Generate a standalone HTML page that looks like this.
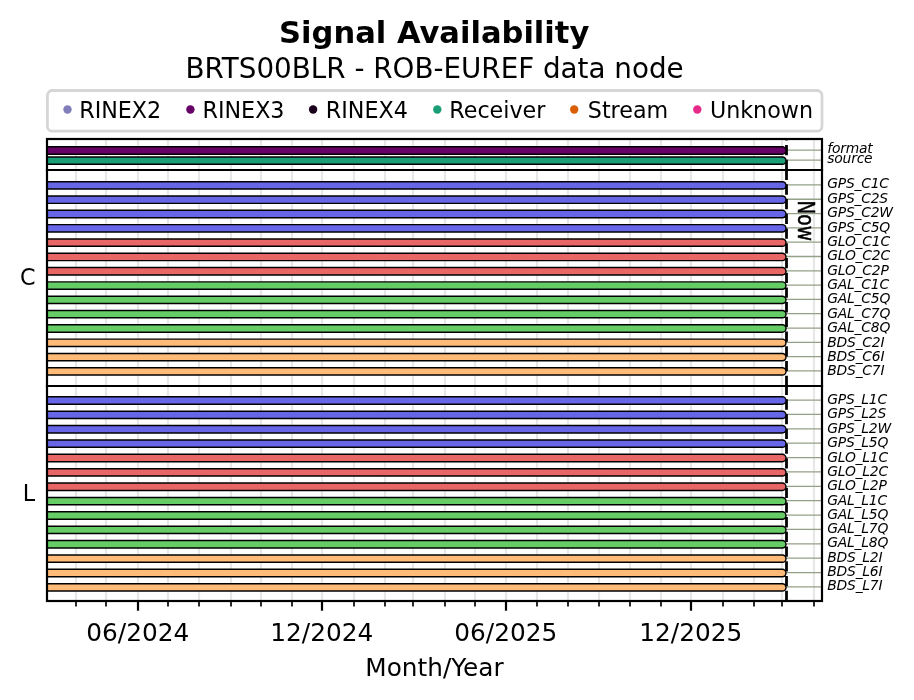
<!DOCTYPE html>
<html lang="en"><head><meta charset="utf-8"><title>Signal Availability</title>
<style>html,body{margin:0;padding:0;background:#fff}svg{display:block}text{filter:grayscale(1);font-family:"DejaVu Sans", "Liberation Sans", sans-serif;fill:#000}</style></head><body>
<svg style="will-change:transform" width="914" height="700" viewBox="0 0 914 700">
<rect width="914" height="700" fill="#fff"/>
<defs><clipPath id="ax"><rect x="47.00" y="139.00" width="775.00" height="462.00"/></clipPath></defs>
<text x="434.2" y="43.0" text-anchor="middle" font-size="30.56" font-weight="bold">Signal Availability</text>
<text x="434.6" y="78.2" text-anchor="middle" font-size="27.78">BRTS00BLR - ROB-EUREF data node</text>
<rect x="47.4" y="90.5" width="774.6" height="40.7" rx="5" ry="5" fill="#fff" stroke="#d6d6d6" stroke-width="2.78"/>
<circle cx="67.5" cy="109.5" r="4.2" fill="#827ebb"/>
<text x="79.2" y="117.6" font-size="22.22">RINEX2</text>
<circle cx="190.4" cy="109.5" r="4.2" fill="#660066"/>
<text x="202.5" y="117.6" font-size="22.22">RINEX3</text>
<circle cx="313.1" cy="109.5" r="4.2" fill="#1a001a"/>
<text x="325.8" y="117.6" font-size="22.22">RINEX4</text>
<circle cx="437.3" cy="109.5" r="4.2" fill="#1b9e77"/>
<text x="449.3" y="117.6" font-size="22.22">Receiver</text>
<circle cx="574.2" cy="109.5" r="4.2" fill="#d95f02"/>
<text x="587.8" y="117.6" font-size="22.22">Stream</text>
<circle cx="697.3" cy="109.5" r="4.2" fill="#e7298a"/>
<text x="709.9" y="117.6" font-size="22.22">Unknown</text>
<g clip-path="url(#ax)">
<line x1="76.00" x2="76.00" y1="139.00" y2="601.00" stroke="#e7e7e7" stroke-width="2.2"/>
<line x1="106.00" x2="106.00" y1="139.00" y2="601.00" stroke="#e7e7e7" stroke-width="2.2"/>
<line x1="138.00" x2="138.00" y1="139.00" y2="601.00" stroke="#e7e7e7" stroke-width="2.2"/>
<line x1="168.00" x2="168.00" y1="139.00" y2="601.00" stroke="#e7e7e7" stroke-width="2.2"/>
<line x1="199.00" x2="199.00" y1="139.00" y2="601.00" stroke="#e7e7e7" stroke-width="2.2"/>
<line x1="231.00" x2="231.00" y1="139.00" y2="601.00" stroke="#e7e7e7" stroke-width="2.2"/>
<line x1="261.00" x2="261.00" y1="139.00" y2="601.00" stroke="#e7e7e7" stroke-width="2.2"/>
<line x1="292.00" x2="292.00" y1="139.00" y2="601.00" stroke="#e7e7e7" stroke-width="2.2"/>
<line x1="322.00" x2="322.00" y1="139.00" y2="601.00" stroke="#e7e7e7" stroke-width="2.2"/>
<line x1="354.00" x2="354.00" y1="139.00" y2="601.00" stroke="#e7e7e7" stroke-width="2.2"/>
<line x1="385.00" x2="385.00" y1="139.00" y2="601.00" stroke="#e7e7e7" stroke-width="2.2"/>
<line x1="413.00" x2="413.00" y1="139.00" y2="601.00" stroke="#e7e7e7" stroke-width="2.2"/>
<line x1="445.00" x2="445.00" y1="139.00" y2="601.00" stroke="#e7e7e7" stroke-width="2.2"/>
<line x1="475.00" x2="475.00" y1="139.00" y2="601.00" stroke="#e7e7e7" stroke-width="2.2"/>
<line x1="506.00" x2="506.00" y1="139.00" y2="601.00" stroke="#e7e7e7" stroke-width="2.2"/>
<line x1="537.00" x2="537.00" y1="139.00" y2="601.00" stroke="#e7e7e7" stroke-width="2.2"/>
<line x1="568.00" x2="568.00" y1="139.00" y2="601.00" stroke="#e7e7e7" stroke-width="2.2"/>
<line x1="599.00" x2="599.00" y1="139.00" y2="601.00" stroke="#e7e7e7" stroke-width="2.2"/>
<line x1="630.00" x2="630.00" y1="139.00" y2="601.00" stroke="#e7e7e7" stroke-width="2.2"/>
<line x1="661.00" x2="661.00" y1="139.00" y2="601.00" stroke="#e7e7e7" stroke-width="2.2"/>
<line x1="691.00" x2="691.00" y1="139.00" y2="601.00" stroke="#e7e7e7" stroke-width="2.2"/>
<line x1="723.00" x2="723.00" y1="139.00" y2="601.00" stroke="#e7e7e7" stroke-width="2.2"/>
<line x1="754.00" x2="754.00" y1="139.00" y2="601.00" stroke="#e7e7e7" stroke-width="2.2"/>
<line x1="782.00" x2="782.00" y1="139.00" y2="601.00" stroke="#e7e7e7" stroke-width="2.2"/>
<line x1="814.00" x2="814.00" y1="139.00" y2="601.00" stroke="#e7e7e7" stroke-width="2.2"/>
<line x1="47.00" x2="822.00" y1="150.05" y2="150.05" stroke="#94a087" stroke-width="1.3"/>
<line x1="47.00" x2="822.00" y1="160.20" y2="160.20" stroke="#94a087" stroke-width="1.3"/>
<line x1="47.00" x2="822.00" y1="184.95" y2="184.95" stroke="#94a087" stroke-width="1.3"/>
<line x1="47.00" x2="822.00" y1="199.26" y2="199.26" stroke="#94a087" stroke-width="1.3"/>
<line x1="47.00" x2="822.00" y1="213.57" y2="213.57" stroke="#94a087" stroke-width="1.3"/>
<line x1="47.00" x2="822.00" y1="227.87" y2="227.87" stroke="#94a087" stroke-width="1.3"/>
<line x1="47.00" x2="822.00" y1="242.18" y2="242.18" stroke="#94a087" stroke-width="1.3"/>
<line x1="47.00" x2="822.00" y1="256.49" y2="256.49" stroke="#94a087" stroke-width="1.3"/>
<line x1="47.00" x2="822.00" y1="270.80" y2="270.80" stroke="#94a087" stroke-width="1.3"/>
<line x1="47.00" x2="822.00" y1="285.10" y2="285.10" stroke="#94a087" stroke-width="1.3"/>
<line x1="47.00" x2="822.00" y1="299.41" y2="299.41" stroke="#94a087" stroke-width="1.3"/>
<line x1="47.00" x2="822.00" y1="313.72" y2="313.72" stroke="#94a087" stroke-width="1.3"/>
<line x1="47.00" x2="822.00" y1="328.03" y2="328.03" stroke="#94a087" stroke-width="1.3"/>
<line x1="47.00" x2="822.00" y1="342.33" y2="342.33" stroke="#94a087" stroke-width="1.3"/>
<line x1="47.00" x2="822.00" y1="356.64" y2="356.64" stroke="#94a087" stroke-width="1.3"/>
<line x1="47.00" x2="822.00" y1="370.95" y2="370.95" stroke="#94a087" stroke-width="1.3"/>
<line x1="47.00" x2="822.00" y1="400.05" y2="400.05" stroke="#94a087" stroke-width="1.3"/>
<line x1="47.00" x2="822.00" y1="414.43" y2="414.43" stroke="#94a087" stroke-width="1.3"/>
<line x1="47.00" x2="822.00" y1="428.80" y2="428.80" stroke="#94a087" stroke-width="1.3"/>
<line x1="47.00" x2="822.00" y1="443.18" y2="443.18" stroke="#94a087" stroke-width="1.3"/>
<line x1="47.00" x2="822.00" y1="457.56" y2="457.56" stroke="#94a087" stroke-width="1.3"/>
<line x1="47.00" x2="822.00" y1="471.93" y2="471.93" stroke="#94a087" stroke-width="1.3"/>
<line x1="47.00" x2="822.00" y1="486.31" y2="486.31" stroke="#94a087" stroke-width="1.3"/>
<line x1="47.00" x2="822.00" y1="500.69" y2="500.69" stroke="#94a087" stroke-width="1.3"/>
<line x1="47.00" x2="822.00" y1="515.07" y2="515.07" stroke="#94a087" stroke-width="1.3"/>
<line x1="47.00" x2="822.00" y1="529.44" y2="529.44" stroke="#94a087" stroke-width="1.3"/>
<line x1="47.00" x2="822.00" y1="543.82" y2="543.82" stroke="#94a087" stroke-width="1.3"/>
<line x1="47.00" x2="822.00" y1="558.20" y2="558.20" stroke="#94a087" stroke-width="1.3"/>
<line x1="47.00" x2="822.00" y1="572.57" y2="572.57" stroke="#94a087" stroke-width="1.3"/>
<line x1="47.00" x2="822.00" y1="586.95" y2="586.95" stroke="#94a087" stroke-width="1.3"/>
<path d="M786.50 170.00V139.00" stroke="#000" stroke-width="2.78" stroke-dasharray="10.28 4.44" fill="none"/>
<path d="M786.50 386.00V170.00" stroke="#000" stroke-width="2.78" stroke-dasharray="10.28 4.44" fill="none"/>
<path d="M786.50 601.00V386.00" stroke="#000" stroke-width="2.78" stroke-dasharray="10.28 4.44" fill="none"/>
<path d="M27.00 150.50H782.30" stroke="#000" stroke-width="8.8" stroke-linecap="round" fill="none"/>
<path d="M27.00 150.50H782.30" stroke="#660066" stroke-width="5.9" stroke-linecap="round" fill="none"/>
<path d="M27.00 160.65H782.30" stroke="#000" stroke-width="8.8" stroke-linecap="round" fill="none"/>
<path d="M27.00 160.65H782.30" stroke="#1b9e77" stroke-width="5.9" stroke-linecap="round" fill="none"/>
<path d="M27.00 185.40H782.30" stroke="#000" stroke-width="8.8" stroke-linecap="round" fill="none"/>
<path d="M27.00 185.40H782.30" stroke="#6666e6" stroke-width="5.9" stroke-linecap="round" fill="none"/>
<path d="M27.00 199.71H782.30" stroke="#000" stroke-width="8.8" stroke-linecap="round" fill="none"/>
<path d="M27.00 199.71H782.30" stroke="#6666e6" stroke-width="5.9" stroke-linecap="round" fill="none"/>
<path d="M27.00 214.02H782.30" stroke="#000" stroke-width="8.8" stroke-linecap="round" fill="none"/>
<path d="M27.00 214.02H782.30" stroke="#6666e6" stroke-width="5.9" stroke-linecap="round" fill="none"/>
<path d="M27.00 228.32H782.30" stroke="#000" stroke-width="8.8" stroke-linecap="round" fill="none"/>
<path d="M27.00 228.32H782.30" stroke="#6666e6" stroke-width="5.9" stroke-linecap="round" fill="none"/>
<path d="M27.00 242.63H782.30" stroke="#000" stroke-width="8.8" stroke-linecap="round" fill="none"/>
<path d="M27.00 242.63H782.30" stroke="#e86666" stroke-width="5.9" stroke-linecap="round" fill="none"/>
<path d="M27.00 256.94H782.30" stroke="#000" stroke-width="8.8" stroke-linecap="round" fill="none"/>
<path d="M27.00 256.94H782.30" stroke="#e86666" stroke-width="5.9" stroke-linecap="round" fill="none"/>
<path d="M27.00 271.25H782.30" stroke="#000" stroke-width="8.8" stroke-linecap="round" fill="none"/>
<path d="M27.00 271.25H782.30" stroke="#e86666" stroke-width="5.9" stroke-linecap="round" fill="none"/>
<path d="M27.00 285.55H782.30" stroke="#000" stroke-width="8.8" stroke-linecap="round" fill="none"/>
<path d="M27.00 285.55H782.30" stroke="#66cc66" stroke-width="5.9" stroke-linecap="round" fill="none"/>
<path d="M27.00 299.86H782.30" stroke="#000" stroke-width="8.8" stroke-linecap="round" fill="none"/>
<path d="M27.00 299.86H782.30" stroke="#66cc66" stroke-width="5.9" stroke-linecap="round" fill="none"/>
<path d="M27.00 314.17H782.30" stroke="#000" stroke-width="8.8" stroke-linecap="round" fill="none"/>
<path d="M27.00 314.17H782.30" stroke="#66cc66" stroke-width="5.9" stroke-linecap="round" fill="none"/>
<path d="M27.00 328.48H782.30" stroke="#000" stroke-width="8.8" stroke-linecap="round" fill="none"/>
<path d="M27.00 328.48H782.30" stroke="#66cc66" stroke-width="5.9" stroke-linecap="round" fill="none"/>
<path d="M27.00 342.78H782.30" stroke="#000" stroke-width="8.8" stroke-linecap="round" fill="none"/>
<path d="M27.00 342.78H782.30" stroke="#ffbb77" stroke-width="5.9" stroke-linecap="round" fill="none"/>
<path d="M27.00 357.09H782.30" stroke="#000" stroke-width="8.8" stroke-linecap="round" fill="none"/>
<path d="M27.00 357.09H782.30" stroke="#ffbb77" stroke-width="5.9" stroke-linecap="round" fill="none"/>
<path d="M27.00 371.40H782.30" stroke="#000" stroke-width="8.8" stroke-linecap="round" fill="none"/>
<path d="M27.00 371.40H782.30" stroke="#ffbb77" stroke-width="5.9" stroke-linecap="round" fill="none"/>
<path d="M27.00 400.50H782.30" stroke="#000" stroke-width="8.8" stroke-linecap="round" fill="none"/>
<path d="M27.00 400.50H782.30" stroke="#6666e6" stroke-width="5.9" stroke-linecap="round" fill="none"/>
<path d="M27.00 414.88H782.30" stroke="#000" stroke-width="8.8" stroke-linecap="round" fill="none"/>
<path d="M27.00 414.88H782.30" stroke="#6666e6" stroke-width="5.9" stroke-linecap="round" fill="none"/>
<path d="M27.00 429.25H782.30" stroke="#000" stroke-width="8.8" stroke-linecap="round" fill="none"/>
<path d="M27.00 429.25H782.30" stroke="#6666e6" stroke-width="5.9" stroke-linecap="round" fill="none"/>
<path d="M27.00 443.63H782.30" stroke="#000" stroke-width="8.8" stroke-linecap="round" fill="none"/>
<path d="M27.00 443.63H782.30" stroke="#6666e6" stroke-width="5.9" stroke-linecap="round" fill="none"/>
<path d="M27.00 458.01H782.30" stroke="#000" stroke-width="8.8" stroke-linecap="round" fill="none"/>
<path d="M27.00 458.01H782.30" stroke="#e86666" stroke-width="5.9" stroke-linecap="round" fill="none"/>
<path d="M27.00 472.38H782.30" stroke="#000" stroke-width="8.8" stroke-linecap="round" fill="none"/>
<path d="M27.00 472.38H782.30" stroke="#e86666" stroke-width="5.9" stroke-linecap="round" fill="none"/>
<path d="M27.00 486.76H782.30" stroke="#000" stroke-width="8.8" stroke-linecap="round" fill="none"/>
<path d="M27.00 486.76H782.30" stroke="#e86666" stroke-width="5.9" stroke-linecap="round" fill="none"/>
<path d="M27.00 501.14H782.30" stroke="#000" stroke-width="8.8" stroke-linecap="round" fill="none"/>
<path d="M27.00 501.14H782.30" stroke="#66cc66" stroke-width="5.9" stroke-linecap="round" fill="none"/>
<path d="M27.00 515.52H782.30" stroke="#000" stroke-width="8.8" stroke-linecap="round" fill="none"/>
<path d="M27.00 515.52H782.30" stroke="#66cc66" stroke-width="5.9" stroke-linecap="round" fill="none"/>
<path d="M27.00 529.89H782.30" stroke="#000" stroke-width="8.8" stroke-linecap="round" fill="none"/>
<path d="M27.00 529.89H782.30" stroke="#66cc66" stroke-width="5.9" stroke-linecap="round" fill="none"/>
<path d="M27.00 544.27H782.30" stroke="#000" stroke-width="8.8" stroke-linecap="round" fill="none"/>
<path d="M27.00 544.27H782.30" stroke="#66cc66" stroke-width="5.9" stroke-linecap="round" fill="none"/>
<path d="M27.00 558.65H782.30" stroke="#000" stroke-width="8.8" stroke-linecap="round" fill="none"/>
<path d="M27.00 558.65H782.30" stroke="#ffbb77" stroke-width="5.9" stroke-linecap="round" fill="none"/>
<path d="M27.00 573.02H782.30" stroke="#000" stroke-width="8.8" stroke-linecap="round" fill="none"/>
<path d="M27.00 573.02H782.30" stroke="#ffbb77" stroke-width="5.9" stroke-linecap="round" fill="none"/>
<path d="M27.00 587.40H782.30" stroke="#000" stroke-width="8.8" stroke-linecap="round" fill="none"/>
<path d="M27.00 587.40H782.30" stroke="#ffbb77" stroke-width="5.9" stroke-linecap="round" fill="none"/>
</g>
<text transform="translate(798.0 200.4) rotate(90) scale(0.84 1.03)" stroke="#000" stroke-width="0.5" font-size="22.22">Now</text>
<rect x="47.00" y="139.00" width="775.00" height="462.00" fill="none" stroke="#000" stroke-width="2.20"/>
<line x1="45.90" x2="823.10" y1="170.00" y2="170.00" stroke="#000" stroke-width="2.20"/>
<line x1="45.90" x2="823.10" y1="386.00" y2="386.00" stroke="#000" stroke-width="2.20"/>
<line x1="76.00" x2="76.00" y1="601.00" y2="606.56" stroke="#000" stroke-width="1.67"/>
<line x1="106.00" x2="106.00" y1="601.00" y2="606.56" stroke="#000" stroke-width="1.67"/>
<line x1="138.00" x2="138.00" y1="601.00" y2="610.72" stroke="#000" stroke-width="2.20"/>
<text x="137.80" y="640.9" text-anchor="middle" font-size="24.8">06/2024</text>
<line x1="168.00" x2="168.00" y1="601.00" y2="606.56" stroke="#000" stroke-width="1.67"/>
<line x1="199.00" x2="199.00" y1="601.00" y2="606.56" stroke="#000" stroke-width="1.67"/>
<line x1="231.00" x2="231.00" y1="601.00" y2="606.56" stroke="#000" stroke-width="1.67"/>
<line x1="261.00" x2="261.00" y1="601.00" y2="606.56" stroke="#000" stroke-width="1.67"/>
<line x1="292.00" x2="292.00" y1="601.00" y2="606.56" stroke="#000" stroke-width="1.67"/>
<line x1="322.00" x2="322.00" y1="601.00" y2="610.72" stroke="#000" stroke-width="2.20"/>
<text x="321.80" y="640.9" text-anchor="middle" font-size="24.8">12/2024</text>
<line x1="354.00" x2="354.00" y1="601.00" y2="606.56" stroke="#000" stroke-width="1.67"/>
<line x1="385.00" x2="385.00" y1="601.00" y2="606.56" stroke="#000" stroke-width="1.67"/>
<line x1="413.00" x2="413.00" y1="601.00" y2="606.56" stroke="#000" stroke-width="1.67"/>
<line x1="445.00" x2="445.00" y1="601.00" y2="606.56" stroke="#000" stroke-width="1.67"/>
<line x1="475.00" x2="475.00" y1="601.00" y2="606.56" stroke="#000" stroke-width="1.67"/>
<line x1="506.00" x2="506.00" y1="601.00" y2="610.72" stroke="#000" stroke-width="2.20"/>
<text x="505.80" y="640.9" text-anchor="middle" font-size="24.8">06/2025</text>
<line x1="537.00" x2="537.00" y1="601.00" y2="606.56" stroke="#000" stroke-width="1.67"/>
<line x1="568.00" x2="568.00" y1="601.00" y2="606.56" stroke="#000" stroke-width="1.67"/>
<line x1="599.00" x2="599.00" y1="601.00" y2="606.56" stroke="#000" stroke-width="1.67"/>
<line x1="630.00" x2="630.00" y1="601.00" y2="606.56" stroke="#000" stroke-width="1.67"/>
<line x1="661.00" x2="661.00" y1="601.00" y2="606.56" stroke="#000" stroke-width="1.67"/>
<line x1="691.00" x2="691.00" y1="601.00" y2="610.72" stroke="#000" stroke-width="2.20"/>
<text x="690.80" y="640.9" text-anchor="middle" font-size="24.8">12/2025</text>
<line x1="723.00" x2="723.00" y1="601.00" y2="606.56" stroke="#000" stroke-width="1.67"/>
<line x1="754.00" x2="754.00" y1="601.00" y2="606.56" stroke="#000" stroke-width="1.67"/>
<line x1="782.00" x2="782.00" y1="601.00" y2="606.56" stroke="#000" stroke-width="1.67"/>
<line x1="814.00" x2="814.00" y1="601.00" y2="606.56" stroke="#000" stroke-width="1.67"/>
<text x="434.5" y="676.2" text-anchor="middle" font-size="24.75">Month/Year</text>
<text x="27.7" y="285.2" text-anchor="middle" font-size="22.22">C</text>
<text x="29" y="500.5" text-anchor="middle" font-size="22.22">L</text>
<text x="827.3" y="152.55" font-size="13.89" font-style="italic" letter-spacing="-0.22">format</text>
<text x="827.3" y="162.70" font-size="13.89" font-style="italic" letter-spacing="-0.22">source</text>
<text x="827.3" y="187.70" font-size="13.89" font-style="italic" letter-spacing="-0.22">GPS_C1C</text>
<text x="827.3" y="202.70" font-size="13.89" font-style="italic" letter-spacing="-0.22">GPS_C2S</text>
<text x="827.3" y="216.70" font-size="13.89" font-style="italic" letter-spacing="-0.22">GPS_C2W</text>
<text x="827.3" y="231.70" font-size="13.89" font-style="italic" letter-spacing="-0.22">GPS_C5Q</text>
<text x="827.3" y="245.70" font-size="13.89" font-style="italic" letter-spacing="-0.22">GLO_C1C</text>
<text x="827.3" y="259.70" font-size="13.89" font-style="italic" letter-spacing="-0.22">GLO_C2C</text>
<text x="827.3" y="274.70" font-size="13.89" font-style="italic" letter-spacing="-0.22">GLO_C2P</text>
<text x="827.3" y="288.70" font-size="13.89" font-style="italic" letter-spacing="-0.22">GAL_C1C</text>
<text x="827.3" y="302.70" font-size="13.89" font-style="italic" letter-spacing="-0.22">GAL_C5Q</text>
<text x="827.3" y="317.70" font-size="13.89" font-style="italic" letter-spacing="-0.22">GAL_C7Q</text>
<text x="827.3" y="331.70" font-size="13.89" font-style="italic" letter-spacing="-0.22">GAL_C8Q</text>
<text x="827.3" y="346.70" font-size="13.89" font-style="italic" letter-spacing="-0.22">BDS_C2I</text>
<text x="827.3" y="360.70" font-size="13.89" font-style="italic" letter-spacing="-0.22">BDS_C6I</text>
<text x="827.3" y="374.70" font-size="13.89" font-style="italic" letter-spacing="-0.22">BDS_C7I</text>
<text x="827.3" y="403.70" font-size="13.89" font-style="italic" letter-spacing="-0.22">GPS_L1C</text>
<text x="827.3" y="417.70" font-size="13.89" font-style="italic" letter-spacing="-0.22">GPS_L2S</text>
<text x="827.3" y="432.70" font-size="13.89" font-style="italic" letter-spacing="-0.22">GPS_L2W</text>
<text x="827.3" y="446.70" font-size="13.89" font-style="italic" letter-spacing="-0.22">GPS_L5Q</text>
<text x="827.3" y="461.70" font-size="13.89" font-style="italic" letter-spacing="-0.22">GLO_L1C</text>
<text x="827.3" y="475.70" font-size="13.89" font-style="italic" letter-spacing="-0.22">GLO_L2C</text>
<text x="827.3" y="489.70" font-size="13.89" font-style="italic" letter-spacing="-0.22">GLO_L2P</text>
<text x="827.3" y="504.70" font-size="13.89" font-style="italic" letter-spacing="-0.22">GAL_L1C</text>
<text x="827.3" y="518.70" font-size="13.89" font-style="italic" letter-spacing="-0.22">GAL_L5Q</text>
<text x="827.3" y="532.70" font-size="13.89" font-style="italic" letter-spacing="-0.22">GAL_L7Q</text>
<text x="827.3" y="547.20" font-size="13.89" font-style="italic" letter-spacing="-0.22">GAL_L8Q</text>
<text x="827.3" y="561.70" font-size="13.89" font-style="italic" letter-spacing="-0.22">BDS_L2I</text>
<text x="827.3" y="575.70" font-size="13.89" font-style="italic" letter-spacing="-0.22">BDS_L6I</text>
<text x="827.3" y="589.70" font-size="13.89" font-style="italic" letter-spacing="-0.22">BDS_L7I</text>
</svg></body></html>
